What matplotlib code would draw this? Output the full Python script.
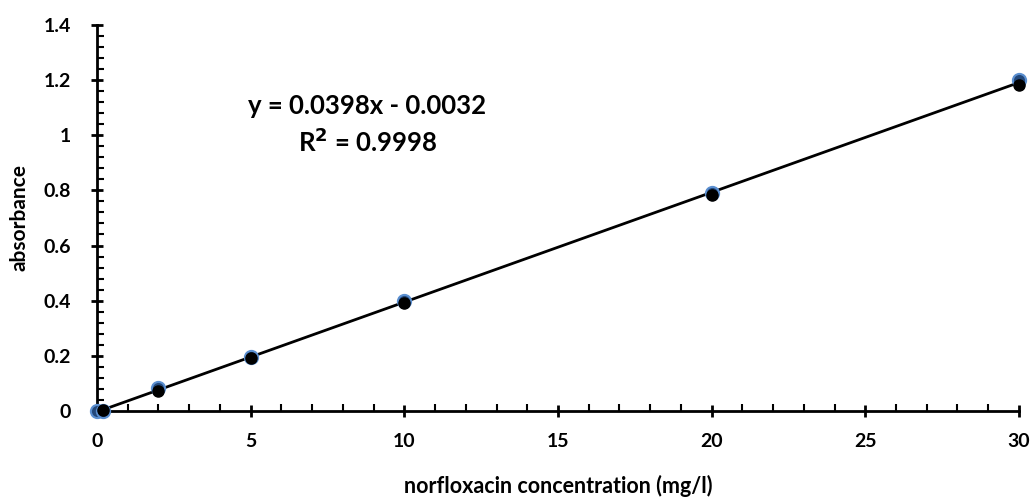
import matplotlib
matplotlib.use("Agg")
import matplotlib.pyplot as plt
import numpy as np
from matplotlib.ticker import MultipleLocator

plt.rcParams["font.family"] = ["Lato", "DejaVu Sans"]
plt.rcParams["font.weight"] = "bold"

# replicate 1 (blue) and replicate 2 (black)
conc_a = [0, 0.2, 2, 5, 10, 20, 30]
abs_a = [0.0, 0.0, 0.084, 0.195, 0.398, 0.792, 1.2]
conc_b = [0.2, 2, 5, 10, 20, 30]
abs_b = [0.002, 0.071, 0.192, 0.390, 0.782, 1.183]
slope, intercept = 0.0398, -0.0032
eq_text = "y = 0.0398x - 0.0032"
r2_text = "R$^2$ = 0.9998"

fig = plt.figure(figsize=(10.35, 4.97), dpi=100)
ax = fig.add_axes([0.0937, 0.173, 0.8908, 0.777])

xs = np.array([0, 30])
ax.plot(xs, slope * xs + intercept, color="black", lw=2, zorder=2)
ax.plot(conc_a, abs_a, "o", ms=9.5, mfc="#23487a", mec="#5b8fd0", mew=1.5,
        ls="none", zorder=3, clip_on=False)
ax.plot(conc_b, abs_b, "o", ms=8, mfc="black", mec="black",
        ls="none", zorder=4, clip_on=False)

ax.set_xlim(0, 30)
ax.set_ylim(0, 1.4)
ax.xaxis.set_major_locator(MultipleLocator(5))
ax.xaxis.set_minor_locator(MultipleLocator(1))
ax.yaxis.set_major_locator(MultipleLocator(0.2))
ax.yaxis.set_minor_locator(MultipleLocator(0.04))
ax.yaxis.set_major_formatter(lambda v, p: f"{v:g}")

for s in ["top", "right"]:
    ax.spines[s].set_visible(False)
for s in ["left", "bottom"]:
    ax.spines[s].set_linewidth(2)
ax.tick_params(which="major", direction="inout", length=9, width=2,
               labelsize=14)
ax.tick_params(axis="x", which="major", pad=11)
ax.tick_params(axis="y", which="major", pad=14)
ax.tick_params(which="minor", direction="in", length=5, width=1.5)
for lab in ax.get_xticklabels() + ax.get_yticklabels():
    lab.set_fontweight("bold")

ax.set_xlabel("norfloxacin concentration (mg/l)", fontsize=15.5,
              fontweight="bold", labelpad=18)
ax.set_ylabel("absorbance", fontsize=15, fontweight="bold", labelpad=10)

ax.text(8.8, 1.105, eq_text, ha="center", va="center", fontsize=18.5,
        fontweight="bold")
ax.text(8.8, 0.975, r2_text, ha="center", va="center", fontsize=18.5,
        fontweight="bold")

fig.savefig("out.png", dpi=100, facecolor="white")
